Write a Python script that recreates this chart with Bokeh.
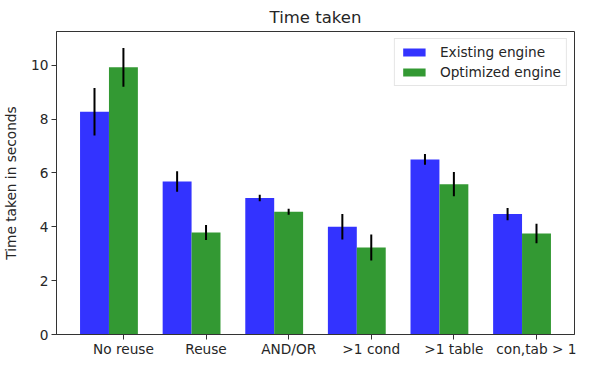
import numpy as np
from bokeh.plotting import figure
from bokeh.models import ColumnDataSource, FixedTicker, Range1d, Legend, LegendItem
from bokeh.embed import file_html
from bokeh.resources import INLINE

categories = ["No reuse", "Reuse", "AND/OR", ">1 cond", ">1 table", "con,tab > 1"]
existing_mean = [8.27, 5.68, 5.07, 4.0, 6.5, 4.47]
existing_err = [0.88, 0.38, 0.12, 0.47, 0.2, 0.23]
optimized_mean = [9.92, 3.79, 4.56, 3.23, 5.58, 3.75]
optimized_err = [0.72, 0.28, 0.11, 0.48, 0.45, 0.36]

bar_width = 0.35
idx = np.arange(len(categories))

FONT = "DejaVu Sans"
TXT = "#262626"

p = figure(width=576, height=359, output_backend="svg", toolbar_location=None,
           x_range=Range1d(-0.46, 5.81), y_range=Range1d(0, 11.25),
           min_border_left=49, min_border_right=2, min_border_top=24, min_border_bottom=0)

src1 = ColumnDataSource(dict(x=idx, top=existing_mean,
                             lo=np.array(existing_mean) - np.array(existing_err),
                             hi=np.array(existing_mean) + np.array(existing_err)))
src2 = ColumnDataSource(dict(x=idx + bar_width, top=optimized_mean,
                             lo=np.array(optimized_mean) - np.array(optimized_err),
                             hi=np.array(optimized_mean) + np.array(optimized_err)))

r1 = p.vbar(x="x", top="top", width=bar_width, source=src1, fill_color="#3333ff", line_color=None)
r2 = p.vbar(x="x", top="top", width=bar_width, source=src2, fill_color="#339933", line_color=None)
p.segment(x0="x", y0="lo", x1="x", y1="hi", source=src1, line_color="black", line_width=2)
p.segment(x0="x", y0="lo", x1="x", y1="hi", source=src2, line_color="black", line_width=2)

p.title.text = "Time taken"
p.title.align = "center"
p.title.text_font = FONT
p.title.text_font_size = "16.5px"
p.title.text_font_style = "normal"
p.title.text_color = TXT

p.xgrid.visible = False
p.ygrid.visible = False
p.outline_line_color = "#333333"
p.outline_line_width = 1

tick_pos = list(idx + bar_width)
p.xaxis.ticker = FixedTicker(ticks=tick_pos)
p.xaxis.major_label_overrides = {float(t): c for t, c in zip(tick_pos, categories)}
p.yaxis.ticker = FixedTicker(ticks=[0, 2, 4, 6, 8, 10])
p.yaxis.axis_label = "Time taken in seconds"
p.xaxis.axis_label = None
p.xaxis.axis_label_standoff = 0

for ax in (p.xaxis, p.yaxis):
    ax.major_tick_in = 0
    ax.major_tick_out = 5
    ax.minor_tick_line_color = None
    ax.axis_line_color = "#333333"
    ax.major_tick_line_color = "#333333"
    ax.major_label_text_font = FONT
    ax.major_label_text_font_size = "13.7px"
    ax.major_label_text_color = TXT
    ax.axis_label_text_font = FONT
    ax.axis_label_text_font_size = "13.7px"
    ax.axis_label_text_font_style = "normal"
    ax.axis_label_text_color = TXT
    ax.major_label_standoff = 3
p.xaxis.major_label_standoff = 1
p.yaxis.axis_label_standoff = 9

legend = Legend(items=[LegendItem(label="Existing engine", renderers=[r1]),
                       LegendItem(label="Optimized engine", renderers=[r2])],
                location="top_right", margin=7, padding=5, spacing=4,
                label_height=16, glyph_width=28, glyph_height=10, label_standoff=12,
                label_text_font=FONT, label_text_font_size="13.7px", label_text_color=TXT,
                border_line_color="#cccccc", border_line_width=1, background_fill_alpha=0.8)
p.add_layout(legend)

open("out.html", "w").write(file_html(p, INLINE))
